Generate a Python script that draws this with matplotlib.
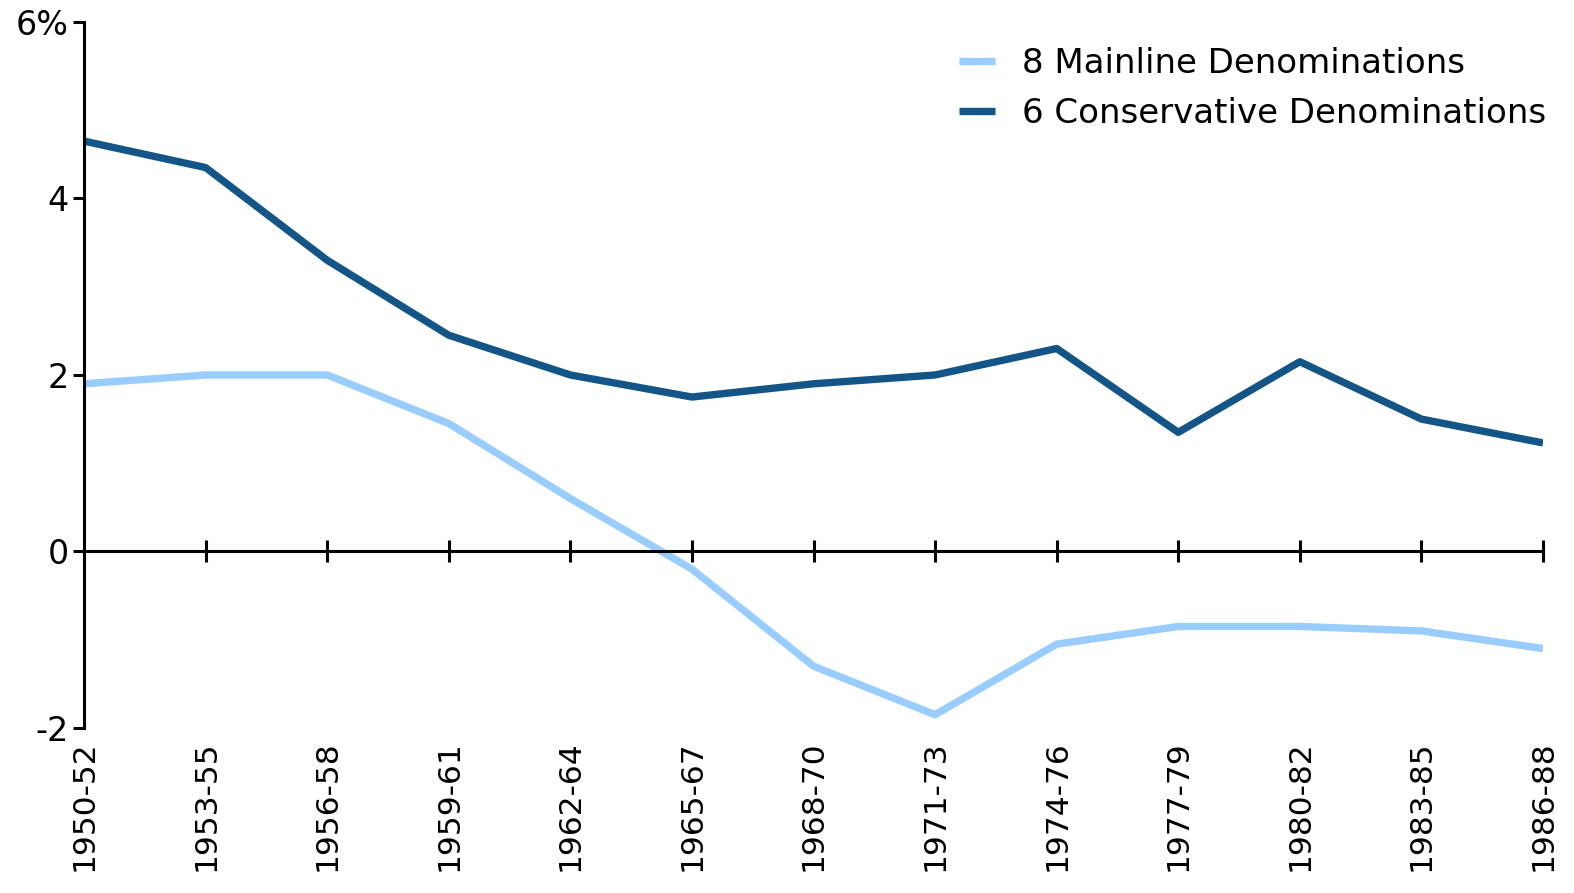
import matplotlib.pyplot as plt
import numpy as np

periods = ['1950-52', '1953-55', '1956-58', '1959-61', '1962-64', '1965-67', '1968-70',
           '1971-73', '1974-76', '1977-79', '1980-82', '1983-85', '1986-88']
mainline = [1.9, 2.0, 2.0, 1.45, 0.6, -0.2, -1.3, -1.85, -1.05, -0.85, -0.85, -0.9, -1.1]
conservative = [4.65, 4.35, 3.3, 2.45, 2.0, 1.75, 1.9, 2.0, 2.3, 1.35, 2.15, 1.5, 1.23]
yticks = [-2, 0, 2, 4, 6]
ylabels = ['-2', '0', '2', '4', '6%']

plt.rcParams['font.family'] = ['DejaVu Sans']
fig = plt.figure(figsize=(15.74, 8.93), dpi=100)
ax = fig.add_axes([0.0534, 0.1848, 0.9269, 0.7906])

x = np.arange(len(periods))
ax.plot(x, mainline, color='#99ccff', lw=5.3, label='8 Mainline Denominations', solid_capstyle='butt')
ax.plot(x, conservative, color='#135587', lw=5.3, label='6 Conservative Denominations', solid_capstyle='butt')

ax.set_xlim(0, len(periods) - 1)
ax.set_ylim(-2, 6)
ax.set_yticks(yticks)
ax.set_yticklabels(ylabels, fontsize=24)
ax.tick_params(axis='y', direction='out', length=8, width=2.2, pad=3)

ax.spines['top'].set_visible(False)
ax.spines['right'].set_visible(False)
ax.spines['left'].set_linewidth(2.2)
ax.spines['bottom'].set_position(('data', 0))
ax.spines['bottom'].set_linewidth(2.2)
ax.set_xticks(x)
ax.tick_params(axis='x', direction='inout', length=16, width=2.2, labelbottom=False)

# labels stay at the bottom of the plot area
sec = ax.secondary_xaxis('bottom')
sec.set_xticks(x)
sec.set_xticklabels(periods, rotation=90, fontsize=22.5)
sec.tick_params(length=0, pad=9)
sec.spines['bottom'].set_visible(False)

ax.legend(loc='upper right', bbox_to_anchor=(1.002, 0.965), frameon=False, fontsize=24.5,
          handlelength=1.05, handletextpad=0.8, labelspacing=0.5, borderaxespad=0, borderpad=0)

fig.savefig('out.png', dpi=100)
